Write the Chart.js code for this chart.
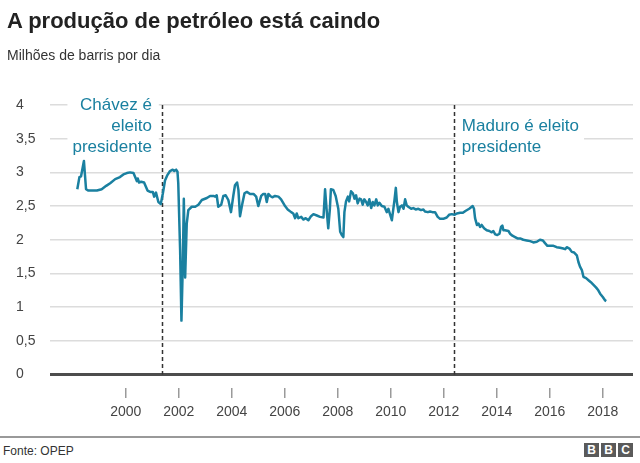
<!DOCTYPE html>
<html lang="pt">
<head>
<meta charset="utf-8">
<script src="https://cdn.jsdelivr.net/npm/chart.js@4/dist/chart.umd.min.js"></script>
<style>
    body { margin: 0; background: #fff; font-family: "Liberation Sans", Arial, sans-serif; }
    #wrap { position: relative; width: 640px; height: 463px; overflow: hidden; }
    #chart { position: absolute; left: 0; top: 0; }
    .title { position: absolute; left: 7px; top: 8px; font-size: 22px; font-weight: bold; color: #222; white-space: nowrap; }
    .subtitle { position: absolute; left: 7px; top: 47px; font-size: 14px; color: #333; white-space: nowrap; }
    .rule { position: absolute; left: 0; top: 436px; width: 640px; height: 2px; background: #999; }
    .source { position: absolute; left: 3px; top: 444px; font-size: 12px; color: #333; }
    .bbc { position: absolute; top: 443px; width: 15px; height: 14px; background: #5a5a5a; color: #fff;
           font-size: 12px; font-weight: bold; line-height: 14px; text-align: center; }
</style>
</head>
<body>
<div id="wrap">
    <canvas id="chart" width="640" height="432"></canvas>
    <div class="title">A produção de petróleo está caindo</div>
    <div class="subtitle">Milhões de barris por dia</div>
    <div class="rule"></div>
    <div class="source">Fonte: OPEP</div>
    <div class="bbc" style="left:584px">B</div>
    <div class="bbc" style="left:601px">B</div>
    <div class="bbc" style="left:618px">C</div>
</div>
<script>
// production in millions of barrels per day
const years = [
    1998.17, 1998.25, 1998.31, 1998.42, 1998.46, 1998.50, 1998.59, 1998.91, 1999.09, 1999.26,
    1999.41, 1999.60, 1999.78, 1999.91, 2000.04, 2000.16, 2000.29, 2000.42, 2000.45, 2000.50,
    2000.58, 2000.69, 2000.82, 2000.92, 2001.02, 2001.07, 2001.14, 2001.23, 2001.32, 2001.40,
    2001.48, 2001.57, 2001.67, 2001.77, 2001.83, 2001.90, 2001.95, 2001.98, 2002.05, 2002.10,
    2002.15, 2002.19, 2002.24, 2002.30, 2002.36, 2002.49, 2002.62, 2002.74, 2002.87, 2003.06,
    2003.18, 2003.31, 2003.37, 2003.43, 2003.49, 2003.60, 2003.68, 2003.77, 2003.87, 2003.97,
    2004.06, 2004.12, 2004.20, 2004.25, 2004.31, 2004.40, 2004.48, 2004.57, 2004.69, 2004.82,
    2004.92, 2005.00, 2005.11, 2005.19, 2005.26, 2005.32, 2005.38, 2005.45, 2005.53, 2005.63,
    2005.76, 2005.86, 2005.95, 2006.01, 2006.11, 2006.24, 2006.32, 2006.39, 2006.45, 2006.51,
    2006.62, 2006.70, 2006.79, 2006.89, 2006.99, 2007.08, 2007.21, 2007.33, 2007.46, 2007.52,
    2007.58, 2007.64, 2007.70, 2007.74, 2007.83, 2007.92, 2008.02, 2008.09, 2008.15, 2008.21,
    2008.25, 2008.31, 2008.38, 2008.43, 2008.50, 2008.57, 2008.63, 2008.69, 2008.75, 2008.82,
    2008.88, 2008.94, 2009.00, 2009.07, 2009.13, 2009.19, 2009.26, 2009.32, 2009.38, 2009.45,
    2009.51, 2009.57, 2009.66, 2009.76, 2009.85, 2009.91, 2009.97, 2010.04, 2010.08, 2010.14,
    2010.19, 2010.23, 2010.29, 2010.35, 2010.42, 2010.48, 2010.54, 2010.60, 2010.66, 2010.77,
    2010.85, 2010.94, 2011.04, 2011.14, 2011.23, 2011.29, 2011.40, 2011.48, 2011.57, 2011.67,
    2011.77, 2011.86, 2011.98, 2012.11, 2012.20, 2012.30, 2012.40, 2012.49, 2012.62, 2012.72,
    2012.83, 2012.96, 2013.09, 2013.14, 2013.18, 2013.25, 2013.31, 2013.37, 2013.43, 2013.52,
    2013.62, 2013.72, 2013.81, 2013.87, 2013.94, 2014.02, 2014.10, 2014.16, 2014.21, 2014.25,
    2014.31, 2014.44, 2014.50, 2014.59, 2014.69, 2014.78, 2014.88, 2015.00, 2015.13, 2015.26,
    2015.38, 2015.51, 2015.63, 2015.74, 2015.82, 2015.91, 2016.01, 2016.14, 2016.26, 2016.39,
    2016.51, 2016.58, 2016.64, 2016.74, 2016.83, 2016.92, 2017.02, 2017.08, 2017.14, 2017.21,
    2017.27, 2017.37, 2017.46, 2017.55, 2017.65, 2017.75, 2017.83, 2017.90, 2018.00, 2018.09,
    2018.13
];
const production = [
    2.75, 2.93, 2.94, 3.17, 2.96, 2.75, 2.73, 2.73, 2.75, 2.80,
    2.84, 2.90, 2.93, 2.97, 2.99, 3.00, 2.99, 2.87, 2.91, 2.85,
    2.86, 2.85, 2.73, 2.71, 2.71, 2.64, 2.70, 2.56, 2.53, 2.69,
    2.88, 2.96, 3.02, 3.04, 3.02, 3.04, 3.01, 2.84, 1.85, 0.80,
    1.60, 2.61, 1.44, 2.24, 2.44, 2.49, 2.49, 2.52, 2.59, 2.62,
    2.65, 2.65, 2.64, 2.66, 2.49, 2.52, 2.65, 2.66, 2.59, 2.41,
    2.66, 2.81, 2.85, 2.74, 2.35, 2.54, 2.69, 2.71, 2.68, 2.68,
    2.64, 2.50, 2.65, 2.68, 2.68, 2.56, 2.68, 2.65, 2.63, 2.65,
    2.64, 2.60, 2.54, 2.50, 2.45, 2.41, 2.39, 2.32, 2.39, 2.32,
    2.34, 2.30, 2.32, 2.29, 2.35, 2.38, 2.36, 2.34, 2.33, 2.75,
    2.44, 2.17, 2.45, 2.75, 2.74, 2.65, 2.46, 2.12, 2.07, 2.04,
    2.41, 2.57, 2.64, 2.57, 2.72, 2.69, 2.61, 2.66, 2.54, 2.61,
    2.60, 2.52, 2.60, 2.56, 2.51, 2.60, 2.47, 2.56, 2.51, 2.60,
    2.51, 2.55, 2.50, 2.49, 2.41, 2.46, 2.38, 2.29, 2.41, 2.59,
    2.77, 2.56, 2.41, 2.49, 2.51, 2.46, 2.60, 2.51, 2.49, 2.46,
    2.47, 2.45, 2.46, 2.44, 2.45, 2.42, 2.41, 2.42, 2.41, 2.41,
    2.34, 2.31, 2.31, 2.33, 2.37, 2.38, 2.37, 2.39, 2.40, 2.40,
    2.43, 2.46, 2.50, 2.46, 2.32, 2.22, 2.24, 2.19, 2.22, 2.17,
    2.14, 2.13, 2.11, 2.13, 2.08, 2.07, 2.09, 2.19, 2.21, 2.14,
    2.14, 2.13, 2.09, 2.06, 2.04, 2.02, 2.02, 2.00, 1.99, 1.98,
    1.96, 1.97, 2.00, 1.99, 1.95, 1.91, 1.91, 1.91, 1.89, 1.88,
    1.87, 1.86, 1.89, 1.87, 1.82, 1.81, 1.77, 1.67, 1.60, 1.55,
    1.45, 1.43, 1.40, 1.37, 1.33, 1.29, 1.25, 1.20, 1.15, 1.10,
    1.09
];
const xTicks = [2000, 2002, 2004, 2006, 2008, 2010, 2012, 2014, 2016, 2018];
const yTicks = [0, 0.5, 1, 1.5, 2, 2.5, 3, 3.5, 4];
const eventYears = [2001.36, 2012.38];
const eventLabels = [
    ['Chávez é', 'eleito', 'presidente'],
    ['Maduro é eleito', 'presidente']
];

const teal = '#1a80a0';
const fontFamily = '"Liberation Sans", Arial, sans-serif';
Chart.defaults.font.family = fontFamily;

// dashed event lines with their white-backed labels
const eventLines = {
    id: 'eventLines',
    beforeDatasetsDraw(chart) {
        const { ctx, chartArea, scales: { x, y } } = chart;
        const lineHeight = 21;
        ctx.save();
        ctx.font = '17px ' + fontFamily;
        ctx.textBaseline = 'middle';
        eventYears.forEach((year, i) => {
            const px = x.getPixelForValue(year);
            const lines = eventLabels[i];
            const alignRight = i === 0;
            const w = Math.max(...lines.map(l => ctx.measureText(l).width));
            const tx = alignRight ? px - 10 : px + 8;
            const top = chartArea.top + (alignRight ? 0 : lineHeight);
            const bx = alignRight ? tx - w - 5 : tx - 7;
            ctx.fillStyle = '#fff';
            ctx.fillRect(bx, top - 11, w + 12, lines.length * lineHeight + 2);
            ctx.fillStyle = teal;
            ctx.textAlign = alignRight ? 'right' : 'left';
            lines.forEach((line, k) => ctx.fillText(line, tx, top + k * lineHeight));

            ctx.beginPath();
            ctx.setLineDash([4, 3]);
            ctx.lineWidth = 1.5;
            ctx.strokeStyle = '#333';
            ctx.moveTo(Math.round(px) + 0.5, y.getPixelForValue(4));
            ctx.lineTo(Math.round(px) + 0.5, y.getPixelForValue(0));
            ctx.stroke();
            ctx.setLineDash([]);
        });
        ctx.restore();
    }
};

const chartInstance = new Chart(document.getElementById('chart').getContext('2d'), {
    type: 'line',
    data: {
        datasets: [
            {
                data: years.map((yr, i) => ({ x: yr, y: production[i] })),
                borderColor: teal,
                borderWidth: 2.5,
                borderJoinStyle: 'round',
                pointRadius: 0,
                tension: 0,
            },
        ],
    },
    options: {
        responsive: false,
        animation: false,
        devicePixelRatio: 1,
        layout: { padding: { top: 105, left: 16, right: 7, bottom: 0 } },
        plugins: { legend: { display: false }, tooltip: { enabled: false } },
        scales: {
            x: {
                type: 'linear',
                min: 1997.14,
                max: 2019.14,
                afterBuildTicks: scale => { scale.ticks = xTicks.map(v => ({ value: v })); },
                afterFit: scale => { scale.height = 44; },
                border: { display: false },
                grid: { drawOnChartArea: false, drawTicks: true, tickLength: 10, color: '#9a9a9a', lineWidth: 1.5 },
                ticks: { color: '#444', font: { size: 14 }, padding: 6, maxRotation: 0, callback: v => String(v) },
            },
            y: {
                min: -0.2,
                max: 4,
                afterBuildTicks: scale => { scale.ticks = yTicks.map(v => ({ value: v })); },
                afterFit: scale => { scale.width = 34; },
                border: { display: false },
                grid: {
                    drawTicks: false,
                    color: c => (c.tick && c.tick.value === 0 ? '#4d4d4d' : '#dcdcdc'),
                    lineWidth: c => (c.tick && c.tick.value === 0 ? 3 : 1.5),
                },
                ticks: {
                    color: '#444',
                    font: { size: 14 },
                    crossAlign: 'far',
                    padding: 0,
                    callback: v => String(v).replace('.', ','),
                },
            },
        },
    },
    plugins: [eventLines],
});
</script>
</body>
</html>
